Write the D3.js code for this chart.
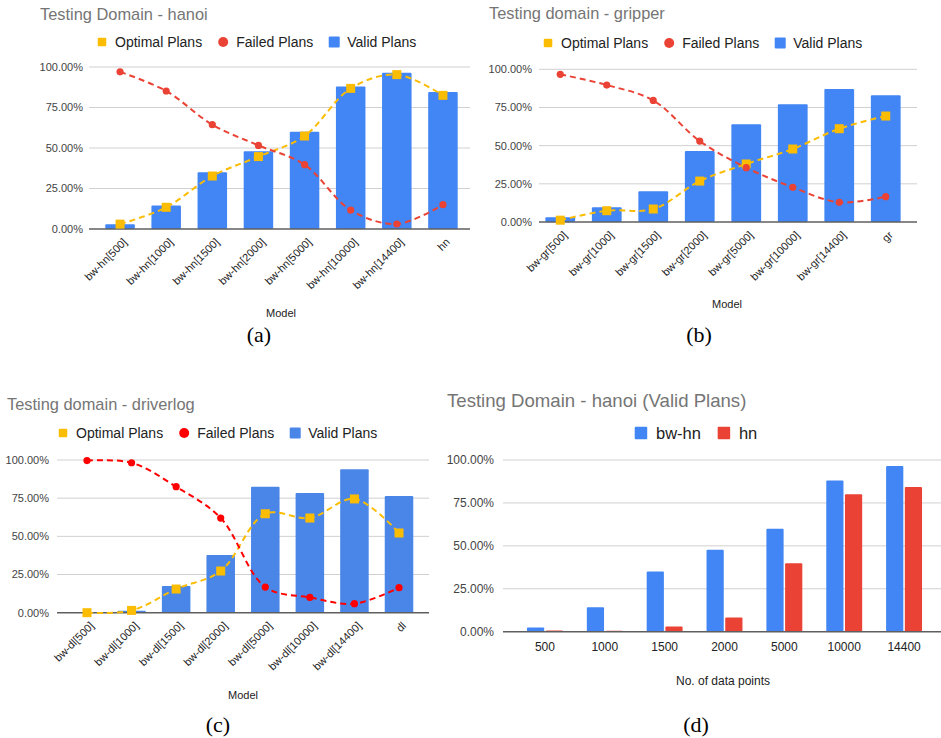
<!DOCTYPE html>
<html><head><meta charset="utf-8">
<script src="https://cdn.jsdelivr.net/npm/d3@7"></script>
<style>body{margin:0;background:#fff}svg{display:block}</style>
</head><body>
<svg id="chart" width="941" height="738"></svg>
<script>
// ---------- data ----------
const catsA = ["bw-hn[500]","bw-hn[1000]","bw-hn[1500]","bw-hn[2000]","bw-hn[5000]","bw-hn[10000]","bw-hn[14400]","hn"];
const validA   = [3, 14.5, 35, 48, 60, 88, 96.5, 84.5];
const optimalA = [3, 13.4, 32.7, 44.7, 57.4, 86.8, 95.3, 82.5];
const failedA  = [97, 85.2, 64.4, 51.6, 39.7, 11.7, 3.1, 15];

const catsB = ["bw-gr[500]","bw-gr[1000]","bw-gr[1500]","bw-gr[2000]","bw-gr[5000]","bw-gr[10000]","bw-gr[14400]","gr"];
const validB   = [3.1, 9.6, 20.1, 46.5, 64, 77.1, 87.1, 83];
const optimalB = [1.2, 7.4, 8.5, 26.8, 38, 47.8, 61.1, 69.4];
const failedB  = [96.7, 89.7, 79.6, 53, 35.6, 22.7, 12.9, 16.6];

const catsC = ["bw-dl[500]","bw-dl[1000]","bw-dl[1500]","bw-dl[2000]","bw-dl[5000]","bw-dl[10000]","bw-dl[14400]","dl"];
const validC   = [0.4, 1.3, 17.5, 37.8, 82.5, 78.4, 93.9, 76.4];
const optimalC = [0, 1.5, 15.5, 27.3, 64.8, 62, 74.5, 52.2];
const failedC  = [99.6, 98.2, 82.5, 62, 16.8, 10, 5.9, 16.4];

const pointsD = ["500","1000","1500","2000","5000","10000","14400"];
const bwhnD = [2.5, 14.2, 35, 47.8, 60, 88, 96.5];
const hnD   = [0.7, 0.6, 3.1, 8.2, 39.8, 80, 84.3];

const yTicks = [0, 25, 50, 75, 100];
const seriesNames = ["Optimal Plans","Failed Plans","Valid Plans"];
const seriesNamesD = ["bw-hn","hn"];

// ---------- drawing ----------
const svg = d3.select("#chart");
const SANS = "'Liberation Sans', Arial, sans-serif";
const SERIF = "'Liberation Serif', 'Times New Roman', serif";
const fmt = d => d3.format(".2f")(d) + "%";

function legend(g, items, cx, cy, fs) {
  const lg = g.append("g");
  let x = 0;
  items.forEach((it) => {
    if (it.shape === "circle") {
      lg.append("circle").attr("cx", x).attr("cy", cy).attr("r", it.size / 2).attr("fill", it.color);
    } else {
      lg.append("rect").attr("x", x - it.size / 2).attr("y", cy - it.size / 2)
        .attr("width", it.size).attr("height", it.size).attr("rx", 1).attr("fill", it.color);
    }
    const t = lg.append("text").attr("x", x + it.gap).attr("y", cy).attr("dy", "0.35em")
      .attr("font-family", SANS).attr("font-size", fs).attr("fill", "#222").text(it.name);
    x += it.gap + t.node().getComputedTextLength() + it.gap + 8;
  });
  const bb = lg.node().getBBox();
  lg.attr("transform", `translate(${cx - (bb.x + bb.width / 2)},0)`);
}

function combo(cfg) {
  const g = svg.append("g");
  const y = d3.scaleLinear().domain([0, 100]).range([cfg.y0, cfg.y100]);
  const x = d3.scaleBand().domain(cfg.cats).range(cfg.xr).paddingInner(0.36).paddingOuter(0.18);
  g.append("text").attr("x", cfg.titleX).attr("y", cfg.titleY).attr("font-family", SANS)
    .attr("font-size", 16.4).attr("fill", "#757575").text(cfg.title);
  legend(g, [
    {name: seriesNames[0], shape: "rect", color: cfg.yellow, size: 8.5, gap: 13},
    {name: seriesNames[1], shape: "circle", color: cfg.red, size: 10, gap: 13},
    {name: seriesNames[2], shape: "rect", color: cfg.blue, size: 11, gap: 13}
  ], cfg.legendCx, cfg.legendY, 14);
  yTicks.filter(t => t !== 0).forEach(t => {
    g.append("line").attr("x1", cfg.gx0).attr("x2", cfg.gx1).attr("y1", y(t)).attr("y2", y(t))
      .attr("stroke", "#d0d0d0").attr("stroke-width", 1);
  });
  yTicks.forEach(t => g.append("text").attr("x", cfg.labelX).attr("y", y(t)).attr("dy", "0.35em")
      .attr("text-anchor", "end").attr("font-family", SANS).attr("font-size", 11)
      .attr("fill", "#444").text(fmt(t)));
  g.append("g").selectAll("rect").data(cfg.valid).join("rect")
    .attr("x", (d, i) => x(cfg.cats[i])).attr("width", x.bandwidth())
    .attr("y", d => y(d)).attr("height", d => y(0) - y(d)).attr("rx", 1)
    .attr("fill", cfg.blue);
  g.append("line").attr("x1", cfg.gx0).attr("x2", cfg.gx1).attr("y1", y(0)).attr("y2", y(0))
    .attr("stroke", "#5f5f5f").attr("stroke-width", 1.4);
  const cx = (d, i) => x(cfg.cats[i]) + x.bandwidth() / 2;
  const line = d3.line().x(cx).y(d => y(d)).curve(d3.curveCatmullRom.alpha(0.5));
  g.append("path").attr("d", line(cfg.optimal)).attr("fill", "none").attr("stroke", cfg.yellow)
    .attr("stroke-width", 2).attr("stroke-dasharray", "6,4");
  g.append("g").selectAll("rect").data(cfg.optimal).join("rect")
    .attr("x", (d, i) => cx(d, i) - 4.5).attr("y", d => y(d) - 4.5).attr("width", 9).attr("height", 9)
    .attr("fill", cfg.yellow);
  g.append("path").attr("d", line(cfg.failed)).attr("fill", "none").attr("stroke", cfg.red)
    .attr("stroke-width", 2).attr("stroke-dasharray", "6,4");
  g.append("g").selectAll("circle").data(cfg.failed).join("circle")
    .attr("cx", cx).attr("cy", d => y(d)).attr("r", 3.6).attr("fill", cfg.red);
  cfg.cats.forEach((c) => {
    const px = x(c) + x.bandwidth() / 2 + 5, py = y(0) + 11;
    g.append("text").attr("transform", `translate(${px},${py}) rotate(-45)`)
      .attr("text-anchor", "end").attr("dy", "0.35em").attr("font-family", SANS)
      .attr("font-size", 11).attr("fill", "#222").text(c);
  });
  g.append("text").attr("x", cfg.axisTitleX).attr("y", cfg.axisTitleY).attr("dy", "0.35em")
    .attr("text-anchor", "middle").attr("font-family", SANS).attr("font-size", 11)
    .attr("fill", "#222").text("Model");
  g.append("text").attr("x", cfg.capX).attr("y", cfg.capY).attr("text-anchor", "middle")
    .attr("font-family", SERIF).attr("font-size", 22).attr("fill", "#000").text(cfg.caption);
}

combo({cats: catsA, valid: validA, optimal: optimalA, failed: failedA,
  title: "Testing Domain - hanoi", titleX: 40, titleY: 20,
  legendCx: 257, legendY: 42, y0: 229, y100: 67, xr: [97, 466], gx0: 89, gx1: 470, labelX: 83,
  axisTitleX: 281, axisTitleY: 313, capX: 259, capY: 342, caption: "(a)",
  blue: "#4285f4", red: "#ea4335", yellow: "#fbbc04"});

combo({cats: catsB, valid: validB, optimal: optimalB, failed: failedB,
  title: "Testing domain - gripper", titleX: 489, titleY: 19,
  legendCx: 703, legendY: 43, y0: 222, y100: 69.3, xr: [537, 909], gx0: 539, gx1: 917, labelX: 532,
  axisTitleX: 727, axisTitleY: 304, capX: 699, capY: 342, caption: "(b)",
  blue: "#4285f4", red: "#ea4335", yellow: "#fbbc04"});

combo({cats: catsC, valid: validC, optimal: optimalC, failed: failedC,
  title: "Testing domain - driverlog", titleX: 7, titleY: 410,
  legendCx: 218, legendY: 433, y0: 612.7, y100: 460, xr: [64.7, 421.3], gx0: 57, gx1: 429, labelX: 49,
  axisTitleX: 243, axisTitleY: 695, capX: 218, capY: 732, caption: "(c)",
  blue: "#4a86e8", red: "#ff0000", yellow: "#fbbc04"});

// ---------- panel (d) ----------
(function () {
  const g = svg.append("g");
  const y = d3.scaleLinear().domain([0, 100]).range([631.7, 460]);
  const x0 = d3.scaleBand().domain(pointsD).range([515, 934]).paddingInner(0.4).paddingOuter(0.2);
  const x1 = d3.scaleBand().domain(seriesNamesD).range([0, x0.bandwidth()]).paddingInner(0.08);
  const colors = ["#4285f4", "#ea4335"];
  g.append("text").attr("x", 447).attr("y", 407).attr("font-family", SANS)
    .attr("font-size", 18.6).attr("fill", "#757575").text("Testing Domain - hanoi (Valid Plans)");
  legend(g, [
    {name: seriesNamesD[0], shape: "rect", color: colors[0], size: 12.5, gap: 15},
    {name: seriesNamesD[1], shape: "rect", color: colors[1], size: 12.5, gap: 15}
  ], 696, 433, 16.5);
  yTicks.filter(t => t !== 0).forEach(t => {
    g.append("line").attr("x1", 503).attr("x2", 941).attr("y1", y(t)).attr("y2", y(t))
      .attr("stroke", "#d0d0d0").attr("stroke-width", 1);
  });
  yTicks.forEach(t => g.append("text").attr("x", 494).attr("y", y(t)).attr("dy", "0.35em")
      .attr("text-anchor", "end").attr("font-family", SANS).attr("font-size", 12)
      .attr("fill", "#444").text(fmt(t)));
  [bwhnD, hnD].forEach((arr, s) => {
    g.append("g").selectAll("rect").data(arr).join("rect")
      .attr("x", (d, i) => x0(pointsD[i]) + x1(seriesNamesD[s])).attr("width", x1.bandwidth())
      .attr("y", d => y(d)).attr("height", d => y(0) - y(d)).attr("rx", 1).attr("fill", colors[s]);
  });
  g.append("line").attr("x1", 503).attr("x2", 941).attr("y1", y(0)).attr("y2", y(0))
    .attr("stroke", "#5f5f5f").attr("stroke-width", 1.4);
  pointsD.forEach(p => g.append("text").attr("x", x0(p) + x0.bandwidth() / 2).attr("y", 651)
    .attr("text-anchor", "middle").attr("font-family", SANS).attr("font-size", 12)
    .attr("fill", "#222").text(p));
  g.append("text").attr("x", 723).attr("y", 681).attr("dy", "0.35em").attr("text-anchor", "middle")
    .attr("font-family", SANS).attr("font-size", 12).attr("fill", "#222").text("No. of data points");
  g.append("text").attr("x", 696).attr("y", 732).attr("text-anchor", "middle")
    .attr("font-family", SERIF).attr("font-size", 22).attr("fill", "#000").text("(d)");
})();
</script>
</body></html>
